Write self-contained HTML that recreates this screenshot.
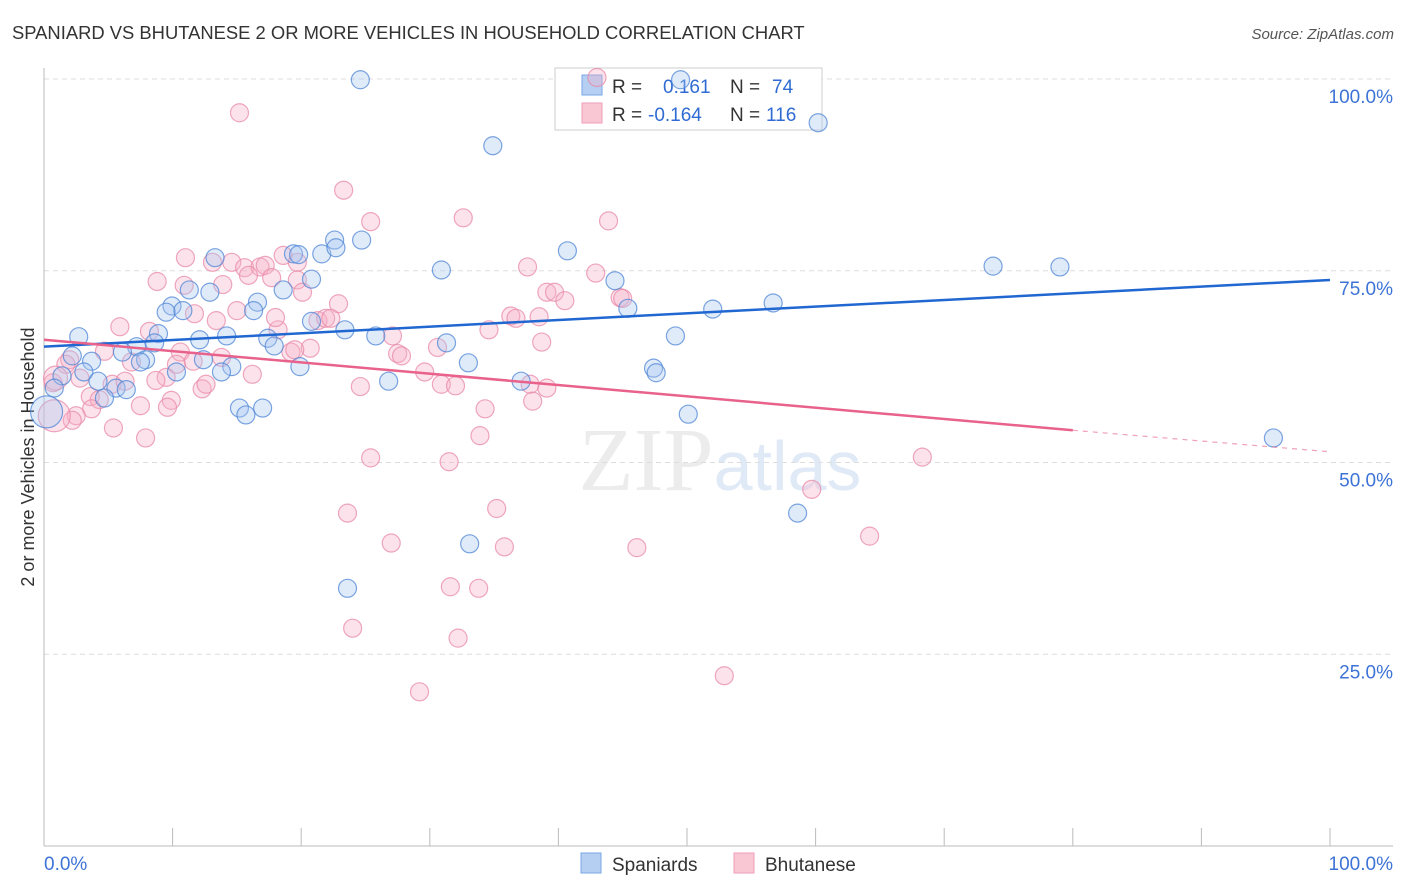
<!DOCTYPE html>
<html><head><meta charset="utf-8"><style>
body{margin:0;background:#fff;font-family:"Liberation Sans",sans-serif;}
svg{display:block}
</style></head><body>
<svg id="chart" width="1406" height="892">
<text x="12" y="39" font-size="18.4" fill="#333">SPANIARD VS BHUTANESE 2 OR MORE VEHICLES IN HOUSEHOLD CORRELATION CHART</text>
<text x="1394" y="39" font-size="15" fill="#555" font-style="italic" text-anchor="end">Source: ZipAtlas.com</text>
<text x="34" y="457" font-size="18" fill="#333" text-anchor="middle" transform="rotate(-90 34 457)">2 or more Vehicles in Household</text>
<text x="720" y="490" font-size="90" fill="#ececec" text-anchor="middle" font-family="Liberation Serif,serif">ZIP<tspan fill="#e0eaf7" font-family="Liberation Sans,sans-serif" font-size="70">atlas</tspan></text>
<g id="grid"></g>
<g>
<rect x="555" y="68" width="267" height="62" fill="#fff" stroke="#ccc"/>
<rect x="582" y="75" width="20" height="20" fill="#b5cff3" stroke="#7aa6e6"/>
<rect x="582" y="103" width="20" height="20" fill="#f9c6d4" stroke="#ee9fb7"/>
<text x="612" y="93" font-size="19" fill="#333">R = <tspan x="663" fill="#2f6bd3">0.161</tspan><tspan x="730" fill="#333">N = </tspan><tspan x="772" fill="#2f6bd3">74</tspan></text>
<text x="612" y="121" font-size="19" fill="#333">R = <tspan x="648" fill="#2f6bd3">-0.164</tspan><tspan x="730" fill="#333">N = </tspan><tspan x="766" fill="#2f6bd3">116</tspan></text>
</g>
<g id="pts"></g><g id="lines"></g>
<g>
<rect x="581" y="853" width="20" height="20" fill="#b5cff3" stroke="#7aa6e6"/>
<text x="612" y="871" font-size="19" fill="#333">Spaniards</text>
<rect x="734" y="853" width="20" height="20" fill="#f9c6d4" stroke="#ee9fb7"/>
<text x="765" y="871" font-size="19" fill="#333">Bhutanese</text>
</g>
</svg>
<script>
const blueX=[24.6,34.9,60.2,49.5,22.6,24.7,21.6,22.7,40.7,30.9,73.8,79.0,44.4,45.4,52.0,56.7,49.1,31.3,33.0,37.1,47.4,47.6,50.1,58.6,33.1,23.6,95.6,26.8,25.8,23.4,20.8,19.4,19.8,20.8,18.6,16.6,16.3,13.3,12.9,11.3,9.95,9.5,10.8,14.2,12.1,8.9,8.6,7.2,6.1,7.9,7.5,2.7,2.2,3.7,3.1,1.4,0.8,4.2,5.6,6.4,4.7,10.3,12.4,14.6,13.8,15.2,15.7,17.0,17.4,17.9,19.9,0.2];
const blueY=[99.9,91.3,94.3,99.9,79.0,79.0,77.2,78.0,77.6,75.1,75.6,75.5,73.7,70.1,70.0,70.8,66.5,65.6,63.0,60.6,62.3,61.7,56.3,43.4,39.4,33.6,53.2,60.6,66.5,67.3,68.4,77.2,77.1,73.9,72.5,70.9,69.8,76.7,72.2,72.5,70.4,69.6,69.8,66.5,66.0,66.8,65.6,65.1,64.4,63.4,63.1,66.4,63.9,63.2,61.8,61.3,59.7,60.6,59.7,59.5,58.4,61.8,63.4,62.5,61.8,57.1,56.2,57.1,66.2,65.2,62.5,56.6];
const pinkX=[15.2,23.3,32.6,25.4,43.9,11.0,13.1,14.6,15.6,16.8,17.2,18.6,19.7,17.7,15.9,8.8,10.9,13.9,19.7,20.1,37.6,42.9,39.1,39.7,40.5,44.8,45.0,22.9,15.0,11.7,13.4,5.9,8.2,18.2,18.0,21.3,21.9,22.3,36.3,36.7,38.5,34.6,27.1,38.7,30.6,20.7,19.2,19.5,10.6,13.8,4.7,6.8,2.0,1.7,10.3,11.6,27.5,27.8,29.6,16.2,2.8,9.5,8.7,5.3,6.3,24.6,30.9,32.0,37.8,39.1,12.3,12.6,9.9,3.6,4.3,0.7,7.5,9.6,3.7,2.5,2.2,34.3,38.0,5.4,7.9,33.9,25.4,31.5,68.3,59.7,23.6,35.2,27.0,35.8,46.1,64.2,31.6,33.8,24.0,32.2,29.2,52.9,0.8,0.9,43.0];
const pinkY=[95.6,85.5,81.9,81.4,81.5,76.7,76.1,76.1,75.4,75.5,75.7,77.0,76.1,74.1,74.4,73.6,73.1,73.2,73.8,72.2,75.5,74.7,72.2,72.2,71.1,71.5,71.4,70.7,69.8,69.4,68.5,67.7,67.1,67.3,68.9,68.5,68.8,68.8,69.1,68.8,69.0,67.3,66.5,65.7,65.0,64.9,64.4,64.7,64.4,63.7,64.5,63.1,63.4,62.8,62.8,63.2,64.2,63.9,61.8,61.5,61.0,61.1,60.7,60.2,60.6,59.9,60.2,60.0,60.2,59.7,59.6,60.2,58.1,58.6,58.2,60.4,57.4,57.2,57.0,56.1,55.5,57.0,58.0,54.5,53.2,53.5,50.6,50.1,50.7,46.5,43.4,44.0,39.5,39.0,38.9,40.4,33.8,33.6,28.4,27.1,20.1,22.2,56.1,61.0,100.2];
const bigIdx={blue:[71],pink:[102,103]};
const blueTrend=[65.1,73.8];
const pinkTrend=[66.0,54.2,51.4];
const pinkSolidEnd=80;
const yTicks=[100,75,50,25];
const yTickLabels=["100.0%","75.0%","50.0%","25.0%"];
const xTicks=[0,10,20,30,40,50,60,70,80,90,100];

const X=v=>44+v*12.86, Y=v=>846-v*7.67;
const NS="http://www.w3.org/2000/svg";
function mk(t,a,p){const e=document.createElementNS(NS,t);for(const k in a)e.setAttribute(k,a[k]);p.appendChild(e);return e;}
const grid=document.getElementById('grid');
yTicks.forEach((t,i)=>{
 const l=mk('line',{x1:44,x2:1393,y1:Y(t),y2:Y(t),stroke:'#ddd','stroke-dasharray':'5,4'},grid);
 
 
 const tx=mk('text',{x:1393,y:Y(t)+24,'font-size':19,fill:'#3d73d6','text-anchor':'end'},grid);
 tx.textContent=yTickLabels[i];
 
 
});
const ax=mk('line',{x1:44,x2:44,y1:68,y2:846,stroke:'#bbb'},grid);


const bx=mk('line',{x1:44,x2:1393,y1:846,y2:846,stroke:'#bbb'},grid);


xTicks.forEach(t=>{
 const l=mk('line',{x1:X(t),x2:X(t),y1:828,y2:846,stroke:'#bbb'},grid);
 
 
});
[[0,'0.0%','start',44],[100,'100.0%','end',1393]].forEach(d=>{
 const tx=mk('text',{x:d[3],y:870,'font-size':19,fill:'#3d73d6','text-anchor':d[2]},grid);
 tx.textContent=d[1];
 
 
});
const pts=document.getElementById('pts');
function draw(xs,ys,fill,stroke,big,name){
 xs.forEach((x,i)=>{
  const c=mk('circle',{cx:X(x),cy:Y(ys[i]),r:big.includes(i)?(i===big[0]?16:12):9,fill:fill,'fill-opacity':0.35,stroke:stroke,'stroke-width':1.2,'stroke-opacity':0.75},pts);
  
  
 });
}
draw(pinkX,pinkY,'#f7b0c6','#e88aa8',bigIdx.pink,'bhutanese-point');
draw(blueX,blueY,'#a7c6f0','#4f86d6',bigIdx.blue,'spaniard-point');
const lines=document.getElementById('lines');
const bl=mk('line',{x1:X(0),y1:Y(blueTrend[0]),x2:X(100),y2:Y(blueTrend[1]),stroke:'#2167d1','stroke-width':2.5},lines);


const pl=mk('line',{x1:X(0),y1:Y(pinkTrend[0]),x2:X(pinkSolidEnd),y2:Y(pinkTrend[1]),stroke:'#e8628c','stroke-width':2.5},lines);


const pd=mk('line',{x1:X(pinkSolidEnd),y1:Y(pinkTrend[1]),x2:X(100),y2:Y(pinkTrend[2]),stroke:'#e8628c','stroke-width':1.2,'stroke-dasharray':'5,5','stroke-opacity':0.6},lines);


</script>
</body></html>
